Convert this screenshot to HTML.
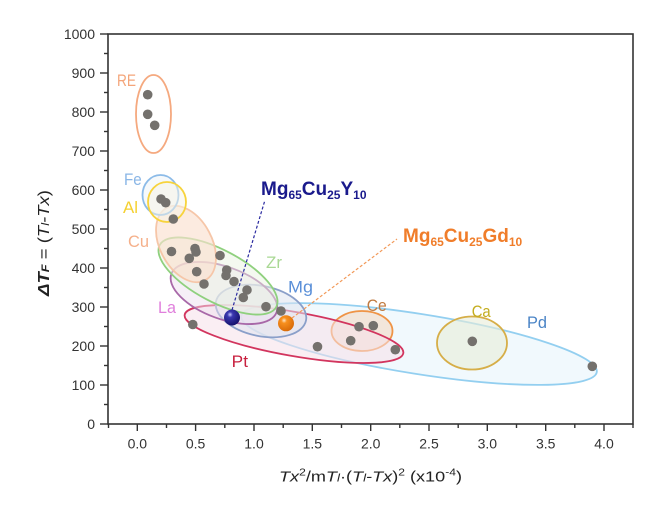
<!DOCTYPE html>
<html><head><meta charset="utf-8"><style>
html,body{margin:0;padding:0;background:#fff;}
svg{display:block;}
text{font-family:"Liberation Sans",Arial,sans-serif;}
</style></head><body>
<svg width="660" height="508" viewBox="0 0 660 508" xmlns="http://www.w3.org/2000/svg">
<defs>
<radialGradient id="gn" cx="0.38" cy="0.32" r="0.7">
<stop offset="0" stop-color="#c8c8ff"/><stop offset="0.25" stop-color="#3a38b0"/><stop offset="1" stop-color="#14106a"/></radialGradient>
<radialGradient id="go" cx="0.38" cy="0.32" r="0.7">
<stop offset="0" stop-color="#ffe6c8"/><stop offset="0.25" stop-color="#f8901e"/><stop offset="1" stop-color="#d86a08"/></radialGradient>
</defs>
<rect width="660" height="508" fill="#fff"/>

<!-- ellipses -->
<g stroke-width="1.8">
<ellipse cx="419" cy="344" rx="180" ry="30" transform="rotate(9 419 344)" fill="#eef7fd" fill-opacity="0.8" stroke="#93cff0"/>
<ellipse cx="472" cy="343" rx="35" ry="26.5" fill="#e8ecd8" fill-opacity="0.6" stroke="#d6ae48"/>
<ellipse cx="362" cy="331" rx="30.5" ry="20" fill="#f4d8c4" fill-opacity="0.6" stroke="#ef9446"/>
<ellipse cx="294" cy="334" rx="111" ry="22" transform="rotate(10 294 334)" fill="#f6e0ea" fill-opacity="0.55" stroke="#d2355e"/>
<ellipse cx="261" cy="311" rx="46" ry="25" transform="rotate(12 261 311)" fill="#dfe3ef" fill-opacity="0.55" stroke="#8a9fc9"/>
<ellipse cx="224" cy="293" rx="56" ry="26" transform="rotate(20 224 293)" fill="#ede0ef" fill-opacity="0.5" stroke="#a868a8"/>
<ellipse cx="218" cy="276" rx="66" ry="26" transform="rotate(28 218 276)" fill="#eaf3e2" fill-opacity="0.5" stroke="#8fd07e"/>
<ellipse cx="186" cy="244" rx="41" ry="26" transform="rotate(62 186 244)" fill="#fbe1d0" fill-opacity="0.65" stroke="#f6c6a8"/>
<ellipse cx="160.5" cy="195" rx="18" ry="20" fill="#eef3f8" fill-opacity="0.5" stroke="#8cbbe8"/>
<ellipse cx="167" cy="202" rx="19" ry="20" fill="#f6f3e6" fill-opacity="0.5" stroke="#f7d33c"/>
<ellipse cx="153.5" cy="114" rx="17.5" ry="39" fill="none" stroke="#f5a97f"/>
</g>

<!-- dots -->
<g fill="#74716d">
<circle cx="147.7" cy="94.7" r="4.8"/><circle cx="147.7" cy="114.3" r="4.8"/><circle cx="154.7" cy="125.3" r="4.8"/>
<circle cx="161" cy="199" r="4.8"/><circle cx="165.7" cy="202.7" r="4.8"/><circle cx="173.3" cy="219" r="4.8"/>
<circle cx="171.5" cy="251.5" r="4.8"/><circle cx="195" cy="248.5" r="4.8"/><circle cx="196" cy="252" r="4.8"/>
<circle cx="189.3" cy="258.3" r="4.8"/><circle cx="220" cy="255.5" r="4.8"/><circle cx="196.7" cy="271.7" r="4.8"/>
<circle cx="204" cy="284" r="4.8"/><circle cx="226.7" cy="270" r="4.8"/><circle cx="226" cy="275.5" r="4.8"/>
<circle cx="234" cy="281.5" r="4.8"/><circle cx="247" cy="290" r="4.8"/><circle cx="243.3" cy="297.5" r="4.8"/>
<circle cx="266" cy="306.7" r="4.8"/><circle cx="281" cy="311" r="4.8"/>
<circle cx="192.8" cy="324.5" r="4.8"/><circle cx="317.5" cy="346.7" r="4.8"/>
<circle cx="359" cy="326.7" r="4.8"/><circle cx="373.3" cy="325.7" r="4.8"/><circle cx="350.7" cy="340.7" r="4.8"/>
<circle cx="395.3" cy="349.7" r="4.8"/><circle cx="472.3" cy="341.3" r="4.8"/><circle cx="592.3" cy="366.3" r="4.8"/>
</g>

<!-- dashed lines -->
<line x1="232" y1="310" x2="265" y2="200" stroke="#2a2aa0" stroke-width="1.2" stroke-dasharray="3,2"/>
<line x1="292" y1="318" x2="397" y2="239" stroke="#f29a5a" stroke-width="1.2" stroke-dasharray="3,2"/>

<!-- spheres -->
<circle cx="232" cy="317.5" r="8" fill="url(#gn)"/>
<circle cx="286" cy="323.3" r="8" fill="url(#go)"/>

<!-- group labels -->
<g font-size="17">
<text x="117" y="86" fill="#f4a57a" textLength="19" lengthAdjust="spacingAndGlyphs">RE</text>
<text x="124" y="185" fill="#8ab6e6" textLength="17.7" lengthAdjust="spacingAndGlyphs">Fe</text>
<text x="123" y="213" fill="#f5d030" textLength="15" lengthAdjust="spacingAndGlyphs">Al</text>
<text x="128" y="247" fill="#f5b08a" textLength="21" lengthAdjust="spacingAndGlyphs">Cu</text>
<text x="266" y="268" fill="#a9d894" textLength="16" lengthAdjust="spacingAndGlyphs">Zr</text>
<text x="158" y="313" fill="#e07fdc" textLength="18" lengthAdjust="spacingAndGlyphs">La</text>
<text x="288" y="292.5" fill="#5a8fd8" textLength="25" lengthAdjust="spacingAndGlyphs">Mg</text>
<text x="231.7" y="367" fill="#c8203f" textLength="16.3" lengthAdjust="spacingAndGlyphs">Pt</text>
<text x="366.7" y="311" fill="#c07a40" textLength="20" lengthAdjust="spacingAndGlyphs">Ce</text>
<text x="471.7" y="317" fill="#c4ad1e" textLength="19" lengthAdjust="spacingAndGlyphs">Ca</text>
<text x="527" y="328" fill="#4a84c6" textLength="20" lengthAdjust="spacingAndGlyphs">Pd</text>
</g>

<!-- alloy labels -->
<text x="261" y="195" fill="#1a1a8c" font-size="19" font-weight="bold">Mg<tspan font-size="12" dy="4">65</tspan><tspan dy="-4">Cu</tspan><tspan font-size="12" dy="4">25</tspan><tspan dy="-4">Y</tspan><tspan font-size="12" dy="4">10</tspan></text>
<text x="403" y="242" fill="#f07d2a" font-size="19" font-weight="bold">Mg<tspan font-size="12" dy="4">65</tspan><tspan dy="-4">Cu</tspan><tspan font-size="12" dy="4">25</tspan><tspan dy="-4">Gd</tspan><tspan font-size="12" dy="4">10</tspan></text>

<!-- frame -->
<rect x="108" y="34" width="525" height="390" fill="none" stroke="#333" stroke-width="1.6"/>

<!-- y ticks -->
<g stroke="#333" stroke-width="1.4">
<line x1="100" y1="34" x2="108" y2="34"/><line x1="104" y1="53.5" x2="108" y2="53.5"/>
<line x1="100" y1="73" x2="108" y2="73"/><line x1="104" y1="92.5" x2="108" y2="92.5"/>
<line x1="100" y1="112" x2="108" y2="112"/><line x1="104" y1="131.5" x2="108" y2="131.5"/>
<line x1="100" y1="151" x2="108" y2="151"/><line x1="104" y1="170.5" x2="108" y2="170.5"/>
<line x1="100" y1="190" x2="108" y2="190"/><line x1="104" y1="209.5" x2="108" y2="209.5"/>
<line x1="100" y1="229" x2="108" y2="229"/><line x1="104" y1="248.5" x2="108" y2="248.5"/>
<line x1="100" y1="268" x2="108" y2="268"/><line x1="104" y1="287.5" x2="108" y2="287.5"/>
<line x1="100" y1="307" x2="108" y2="307"/><line x1="104" y1="326.5" x2="108" y2="326.5"/>
<line x1="100" y1="346" x2="108" y2="346"/><line x1="104" y1="365.5" x2="108" y2="365.5"/>
<line x1="100" y1="385" x2="108" y2="385"/><line x1="104" y1="404.5" x2="108" y2="404.5"/>
<line x1="100" y1="424" x2="108" y2="424"/>
</g>
<!-- x ticks -->
<g stroke="#333" stroke-width="1.4">
<line x1="108.5" y1="424" x2="108.5" y2="428"/>
<line x1="137.3" y1="424" x2="137.3" y2="431"/><line x1="166.5" y1="424" x2="166.5" y2="428"/>
<line x1="195.6" y1="424" x2="195.6" y2="431"/><line x1="224.8" y1="424" x2="224.8" y2="428"/>
<line x1="254" y1="424" x2="254" y2="431"/><line x1="283.2" y1="424" x2="283.2" y2="428"/>
<line x1="312.3" y1="424" x2="312.3" y2="431"/><line x1="341.5" y1="424" x2="341.5" y2="428"/>
<line x1="370.7" y1="424" x2="370.7" y2="431"/><line x1="399.8" y1="424" x2="399.8" y2="428"/>
<line x1="429" y1="424" x2="429" y2="431"/><line x1="458.2" y1="424" x2="458.2" y2="428"/>
<line x1="487.3" y1="424" x2="487.3" y2="431"/><line x1="516.5" y1="424" x2="516.5" y2="428"/>
<line x1="545.7" y1="424" x2="545.7" y2="431"/><line x1="574.8" y1="424" x2="574.8" y2="428"/>
<line x1="604" y1="424" x2="604" y2="431"/><line x1="633" y1="424" x2="633" y2="428"/>
</g>

<!-- y tick labels -->
<g font-size="14" fill="#333" text-anchor="end">
<text x="95" y="39">1000</text><text x="95" y="78">900</text><text x="95" y="117">800</text>
<text x="95" y="156">700</text><text x="95" y="195">600</text><text x="95" y="234">500</text>
<text x="95" y="273">400</text><text x="95" y="312">300</text><text x="95" y="351">200</text>
<text x="95" y="390">100</text><text x="95" y="429">0</text>
</g>
<!-- x tick labels -->
<g font-size="14" fill="#333" text-anchor="middle">
<text x="137.3" y="448.5">0.0</text><text x="195.6" y="448.5">0.5</text><text x="254" y="448.5">1.0</text>
<text x="312.3" y="448.5">1.5</text><text x="370.7" y="448.5">2.0</text><text x="429" y="448.5">2.5</text>
<text x="487.3" y="448.5">3.0</text><text x="545.7" y="448.5">3.5</text><text x="604" y="448.5">4.0</text>
</g>

<!-- x axis title -->
<text x="279" y="481.5" font-size="15" fill="#222" textLength="183" lengthAdjust="spacingAndGlyphs"><tspan font-style="italic">Tx</tspan><tspan font-size="10" dy="-6">2</tspan><tspan dy="6">/m</tspan><tspan font-style="italic">T</tspan><tspan font-style="italic" font-size="11">l</tspan><tspan>·(</tspan><tspan font-style="italic">T</tspan><tspan font-style="italic" font-size="11">l</tspan><tspan font-style="italic">-Tx</tspan><tspan>)</tspan><tspan font-size="10" dy="-6">2</tspan><tspan dy="6"> (x10</tspan><tspan font-size="10" dy="-6">-4</tspan><tspan dy="6">)</tspan></text>

<!-- y axis title -->
<text transform="translate(49,243) rotate(-90)" text-anchor="middle" font-size="16" fill="#222" textLength="106" lengthAdjust="spacingAndGlyphs"><tspan font-style="italic" font-weight="bold">ΔT</tspan><tspan font-style="italic" font-weight="bold" font-size="11">F</tspan><tspan> = (</tspan><tspan font-style="italic">T</tspan><tspan font-style="italic" font-size="11">l</tspan><tspan font-style="italic">-Tx</tspan><tspan>)</tspan></text>
</svg>
</body></html>
